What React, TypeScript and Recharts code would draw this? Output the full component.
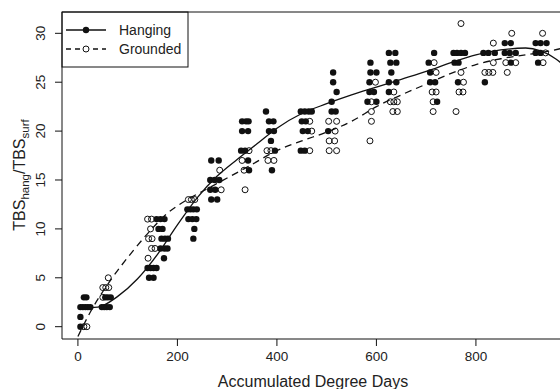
import React from "react";
import {
  ComposedChart,
  Scatter,
  Line,
  XAxis,
  YAxis,
  ReferenceLine,
  Customized,
} from "recharts";

// observed scores, [degree days, score]
const hangingPts = [
  [5, 0], [5, 1], [5, 2], [10, 2], [15, 2], [20, 2], [25, 2], [12, 3], [17, 3],
  [48, 2], [53, 2], [58, 2], [64, 2], [55, 3], [60, 3], [66, 3],
  [143, 5], [152, 5], [140, 6], [146, 6], [152, 6], [158, 6], [173, 7], [166, 8], [174, 8], [180, 8],
  [168, 9], [175, 9], [181, 9], [162, 10], [170, 10], [158, 11], [166, 11], [174, 11],
  [232, 9], [234, 10], [222, 11], [230, 11], [238, 11], [220, 12], [226, 12], [232, 12], [239, 12],
  [268, 13], [280, 13], [266, 14], [276, 14], [266, 15], [275, 15], [284, 15], [268, 17], [283, 17],
  [344, 16], [342, 17], [328, 18], [336, 18], [330, 20], [342, 20], [330, 21], [338, 21], [343, 21],
  [378, 22], [384, 21], [393, 21], [384, 20], [394, 20], [388, 19], [396, 18], [390, 16],
  [448, 22], [456, 22], [464, 22], [470, 22], [450, 21], [458, 21], [452, 20], [462, 20], [448, 18], [456, 18],
  [513, 26], [513, 25], [520, 24], [510, 23], [510, 22], [518, 22], [503, 20],
  [588, 27], [588, 26], [600, 26], [586, 25], [586, 24], [595, 24], [582, 23], [600, 23],
  [625, 28], [638, 28], [628, 27], [640, 27], [630, 26], [625, 25], [640, 25], [625, 24],
  [716, 28], [705, 27], [708, 26], [708, 25], [718, 25], [722, 23],
  [755, 28], [762, 28], [770, 28], [778, 28], [757, 27], [765, 27], [764, 25],
  [815, 28], [825, 28], [838, 28], [818, 25],
  [858, 29], [870, 29], [858, 28], [868, 28], [880, 28], [870, 27],
  [920, 29], [930, 29], [942, 29], [920, 28], [930, 28], [925, 27],
];

const groundedPts = [
  [12, 0], [18, 0],
  [50, 3], [50, 4], [56, 4], [62, 4], [61, 5],
  [141, 7], [148, 8], [155, 8], [142, 9], [149, 9], [146, 10], [140, 11], [148, 11],
  [222, 13], [228, 13], [235, 13],
  [288, 14], [285, 16],
  [336, 14], [334, 16], [330, 17], [344, 18],
  [380, 18], [388, 18], [382, 17], [394, 17],
  [466, 21], [470, 20], [466, 18],
  [504, 21], [520, 21], [517, 20], [505, 19], [516, 19], [505, 18], [520, 18],
  [598, 25], [590, 23], [590, 22], [590, 21], [587, 19],
  [635, 24], [628, 23], [635, 23], [642, 23], [633, 22], [642, 22],
  [716, 27], [720, 26], [712, 24], [720, 24], [714, 23], [714, 22],
  [770, 31], [770, 26], [775, 25], [766, 24], [774, 24], [760, 22],
  [835, 29], [835, 27], [818, 26], [826, 26], [834, 26],
  [872, 30], [860, 27], [880, 27], [863, 26],
  [934, 30], [940, 28], [935, 27],
];

// fitted smooth curves
const hangingFit = [
  [0, 1.9], [40, 2.0], [80, 3.1], [120, 4.9], [160, 7.4], [200, 10.4], [240, 13.2],
  [280, 15.4], [320, 17.1], [360, 18.7], [400, 20.3], [450, 21.8], [500, 22.8],
  [550, 23.7], [600, 24.5], [650, 25.3], [700, 26.1], [750, 27.0], [800, 27.8],
  [850, 28.3], [900, 28.5], [930, 28.2], [960, 27.4], [975, 26.8],
];

const groundedFit = [
  [0, -1.0], [25, 1.5], [65, 4.7], [110, 7.7], [145, 9.8], [180, 11.6], [220, 13.0],
  [260, 14.1], [300, 15.2], [350, 16.6], [400, 18.0], [450, 19.0], [500, 19.9],
  [550, 21.0], [600, 22.5], [650, 23.7], [700, 24.8], [750, 25.9], [800, 26.8],
  [850, 27.4], [900, 27.8], [950, 28.2], [975, 28.5],
];

const xTicks = [0, 200, 400, 600, 800];
const yTicks = [0, 5, 10, 15, 20, 25, 30];
const xDomain = [-32, 969];
const yDomain = [-1.26, 32.18];

const toRows = (pts: number[][]) => pts.map(([x, y]) => ({ x, y }));

const FONT = "'Liberation Sans', Arial, Helvetica, sans-serif";
const INK = "#111";

const FilledDot = (p: any) => <circle cx={p.cx} cy={p.cy} r={3.2} fill={INK} />;
const OpenDot = (p: any) => (
  <circle cx={p.cx} cy={p.cy} r={3} fill="none" stroke={INK} strokeWidth={1} />
);

const XTick = (p: any) => (
  <text x={p.x} y={p.y + 13} textAnchor="middle" fontSize={13.5} fontFamily={FONT} fill="#222">
    {p.payload.value}
  </text>
);

const YTick = (p: any) => (
  <text
    transform={`translate(${p.x - 8},${p.y}) rotate(-90)`}
    textAnchor="middle"
    fontSize={13.5}
    fontFamily={FONT}
    fill="#222"
  >
    {p.payload.value}
  </text>
);

const Extras = () => (
  <g fontFamily={FONT} fill="#222">
    {/* legend */}
    <rect x={62} y={12} width={126} height={55} fill="#fff" stroke={INK} strokeWidth={1} />
    <line x1={66} y1={30} x2={106} y2={30} stroke={INK} strokeWidth={1.3} />
    <circle cx={86} cy={30} r={3.2} fill={INK} />
    <line x1={66} y1={49} x2={106} y2={49} stroke={INK} strokeWidth={1.3} strokeDasharray="5 4" />
    <circle cx={86} cy={49} r={3} fill="#fff" stroke={INK} />
    <text x={119} y={35} fontSize={14}>Hanging</text>
    <text x={119} y={54} fontSize={14}>Grounded</text>
    {/* axis titles */}
    <text x={313} y={387} fontSize={16} textAnchor="middle">Accumulated Degree Days</text>
    <text transform="translate(25,175) rotate(-90)" fontSize={16} textAnchor="middle">
      TBS<tspan fontSize={11.5} dy={4}>hang</tspan>
      <tspan dy={-4}>/TBS</tspan>
      <tspan fontSize={11.5} dy={4}>surf</tspan>
    </text>
  </g>
);

export default function App() {
  return (
    <div style={{ position: "absolute", left: 0, top: 0, width: 560, height: 389, background: "#fff" }}>
      <ComposedChart width={560} height={389} margin={{ top: 12, right: 0, bottom: 0, left: 0 }}>
        <XAxis
          type="number"
          dataKey="x"
          domain={xDomain}
          ticks={xTicks}
          allowDataOverflow
          height={50}
          tickSize={7}
          tick={<XTick />}
          stroke={INK}
          tickLine={{ stroke: INK }}
          axisLine={{ stroke: INK }}
        />
        <YAxis
          type="number"
          dataKey="y"
          domain={yDomain}
          ticks={yTicks}
          allowDataOverflow
          width={62}
          tickSize={7}
          tick={<YTick />}
          stroke={INK}
          tickLine={{ stroke: INK }}
          axisLine={{ stroke: INK }}
        />
        <ReferenceLine y={yDomain[1]} stroke={INK} strokeWidth={1} />
        <Scatter data={toRows(hangingPts)} dataKey="y" shape={<FilledDot />} isAnimationActive={false} />
        <Scatter data={toRows(groundedPts)} dataKey="y" shape={<OpenDot />} isAnimationActive={false} />
        <Line
          data={toRows(hangingFit)}
          dataKey="y"
          type="monotone"
          dot={false}
          stroke={INK}
          strokeWidth={1.3}
          isAnimationActive={false}
        />
        <Line
          data={toRows(groundedFit)}
          dataKey="y"
          type="monotone"
          dot={false}
          stroke={INK}
          strokeWidth={1.3}
          strokeDasharray="7 5"
          isAnimationActive={false}
        />
        <Customized component={<Extras />} />
      </ComposedChart>
    </div>
  );
}
